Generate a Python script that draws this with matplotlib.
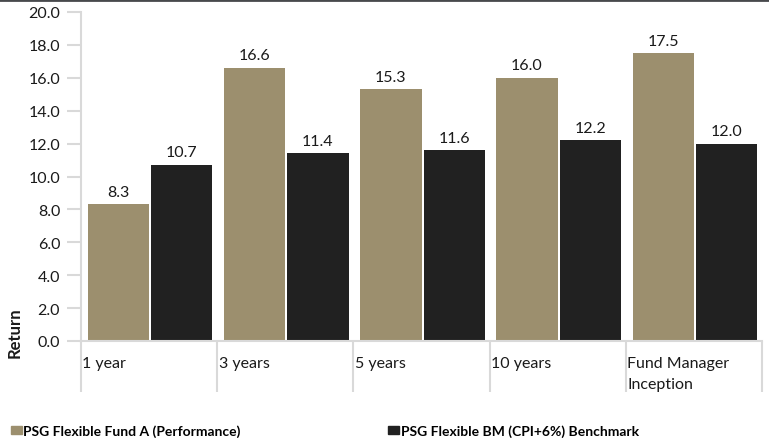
import matplotlib.pyplot as plt
from matplotlib.patches import Patch
from matplotlib.lines import Line2D
import numpy as np

# Chart data
categories = ['1 year', '3 years', '5 years', '10 years', 'Fund Manager\nInception']
fund_returns = [8.3, 16.6, 15.3, 16.0, 17.5]
benchmark_returns = [10.7, 11.4, 11.6, 12.2, 12.0]
series_names = ['PSG Flexible Fund A (Performance)', 'PSG Flexible BM (CPI+6%) Benchmark']
y_ticks = [0, 2, 4, 6, 8, 10, 12, 14, 16, 18, 20]

gold = '#9c8f6e'
dark = '#212121'
axis_grey = '#d9d9d9'

plt.rcParams['font.family'] = ['Lato', 'DejaVu Sans']

fig = plt.figure(figsize=(7.69, 4.39), dpi=100)
ax = fig.add_axes([81 / 769, 97 / 439, 681 / 769, 329 / 439])

# Bars: one group per category, two bars per group
x = np.arange(len(categories))
w = 0.45
ax.bar(x + 0.275, fund_returns, width=w, color=gold)
ax.bar(x + 0.74, benchmark_returns, width=w, color=dark)

# Value labels above each bar
for i in range(len(categories)):
    ax.annotate(f'{fund_returns[i]:.1f}', (x[i] + 0.275, fund_returns[i]),
                xytext=(0, 4), textcoords='offset points',
                ha='center', va='bottom', fontsize=11.5, color='#1a1a1a')
    ax.annotate(f'{benchmark_returns[i]:.1f}', (x[i] + 0.74, benchmark_returns[i]),
                xytext=(0, 4), textcoords='offset points',
                ha='center', va='bottom', fontsize=11.5, color='#1a1a1a')

ax.set_xlim(0, len(categories))
ax.set_ylim(0, 20)
ax.set_yticks(y_ticks)
ax.set_yticklabels([f'{v:.1f}' for v in y_ticks], fontsize=11.5, color='#1a1a1a')
ax.tick_params(axis='y', length=10, width=1.5, color=axis_grey, pad=5)

# Category separators as long x ticks, labels placed by hand (left aligned)
ax.set_xticks(np.arange(len(categories) + 1))
ax.set_xticklabels([])
ax.tick_params(axis='x', length=37, width=1.5, color=axis_grey)
for i, lab in enumerate(categories):
    ax.annotate(lab, (x[i], 0), xytext=(1, -11), textcoords='offset points',
                ha='left', va='top', fontsize=11.5, color='#1a1a1a',
                linespacing=1.6, annotation_clip=False)

for side in ['top', 'right']:
    ax.spines[side].set_visible(False)
ax.spines['left'].set_color(axis_grey)
ax.spines['left'].set_linewidth(1.5)
ax.spines['bottom'].set_color(axis_grey)
ax.spines['bottom'].set_linewidth(1.5)

fig.text(15 / 769, 1 - 333 / 439, 'Return', rotation=90, ha='center', va='center',
         fontsize=12, fontweight='bold', color='#1a1a1a')

# Dark rule across the top of the figure
fig.add_artist(Line2D([0, 1], [1 - 1 / 439, 1 - 1 / 439], color='#47494c', linewidth=2))

# Legend at the bottom
handles = [Patch(color=gold), Patch(color=dark)]
fig.legend(handles, series_names, loc='lower left', bbox_to_anchor=(-0.002, -0.027),
           ncol=2, frameon=False, handlelength=0.8, handleheight=0.55,
           handletextpad=0.1, columnspacing=10.6,
           prop={'size': 10, 'weight': 'bold'})

fig.savefig('out.png', dpi=100)
